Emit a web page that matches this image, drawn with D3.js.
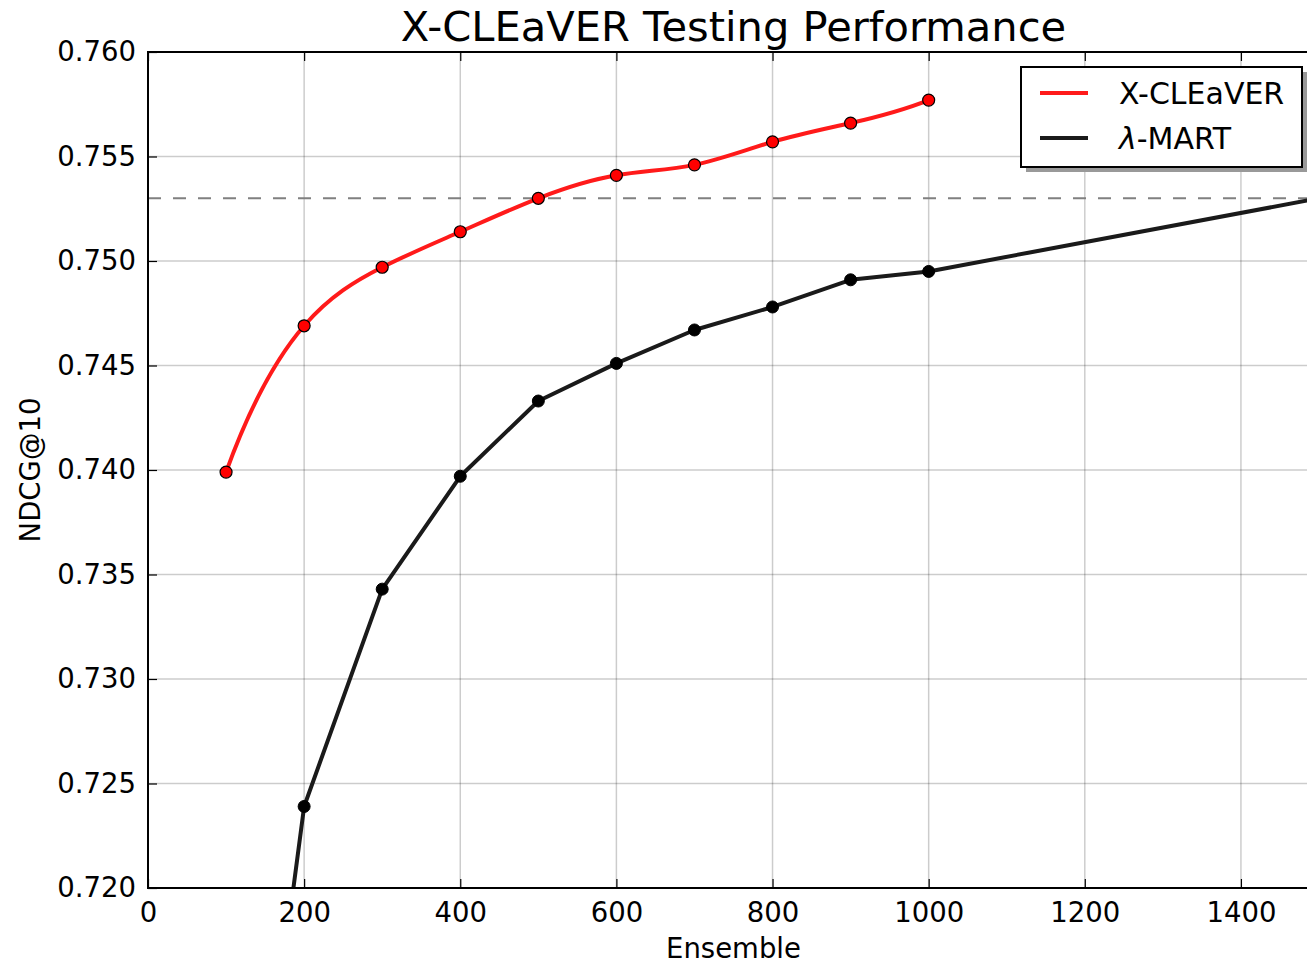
<!DOCTYPE html>
<html>
<head>
<meta charset="utf-8">
<script src="https://cdn.jsdelivr.net/npm/d3@7"></script>
<style>
  html, body { margin: 0; padding: 0; background: #fff; }
  svg { display: block; font-family: "DejaVu Sans", sans-serif; }
</style>
</head>
<body>
<svg id="chart" width="1307" height="966"></svg>
<script>
// Ensemble sizes and NDCG@10 for each model
const ensembleCleaver = [100, 200, 300, 400, 500, 600, 700, 800, 900, 1000];
const ndcgCleaver = [0.7399, 0.7469, 0.7497, 0.7514, 0.7530, 0.7541, 0.7546, 0.7557, 0.7566, 0.7577];
const ensembleMart = [100, 200, 300, 400, 500, 600, 700, 800, 900, 1000, 1500];
const ndcgMart = [0.6955, 0.7239, 0.7343, 0.7397, 0.7433, 0.7451, 0.7467, 0.7478, 0.7491, 0.7495, 0.7530];
const referenceLevel = 0.7530;
const xTicks = [0, 200, 400, 600, 800, 1000, 1200, 1400];
const yTicks = [0.720, 0.725, 0.730, 0.735, 0.740, 0.745, 0.750, 0.755, 0.760];
const seriesNames = ["X-CLEaVER", "λ-MART"];

// Cubic spline curve with "not-a-knot" end conditions, emitted as exact Bezier segments.
function curveNotAKnot(context) {
  let xs, ys;
  return {
    areaStart() {}, areaEnd() {},
    lineStart() { xs = []; ys = []; },
    point(px, py) { xs.push(+px); ys.push(+py); },
    lineEnd() {
      const n = xs.length;
      if (n === 0) return;
      context.moveTo(xs[0], ys[0]);
      if (n < 4) { for (let i = 1; i < n; i++) context.lineTo(xs[i], ys[i]); return; }
      const h = d3.range(n - 1).map(i => xs[i + 1] - xs[i]);
      const A = d3.range(n).map(() => new Array(n).fill(0));
      const b = new Array(n).fill(0);
      A[0][0] = -1 / h[0]; A[0][1] = 1 / h[0] + 1 / h[1]; A[0][2] = -1 / h[1];
      for (let i = 1; i < n - 1; i++) {
        A[i][i - 1] = h[i - 1]; A[i][i] = 2 * (h[i - 1] + h[i]); A[i][i + 1] = h[i];
        b[i] = 6 * ((ys[i + 1] - ys[i]) / h[i] - (ys[i] - ys[i - 1]) / h[i - 1]);
      }
      const k = n - 1;
      A[k][k - 2] = -1 / h[k - 2]; A[k][k - 1] = 1 / h[k - 2] + 1 / h[k - 1]; A[k][k] = -1 / h[k - 1];
      // Gaussian elimination with partial pivoting
      for (let c = 0; c < n; c++) {
        let p = c;
        for (let r = c + 1; r < n; r++) if (Math.abs(A[r][c]) > Math.abs(A[p][c])) p = r;
        [A[c], A[p]] = [A[p], A[c]]; [b[c], b[p]] = [b[p], b[c]];
        for (let r = c + 1; r < n; r++) {
          const f = A[r][c] / A[c][c];
          for (let j = c; j < n; j++) A[r][j] -= f * A[c][j];
          b[r] -= f * b[c];
        }
      }
      const M = new Array(n).fill(0);
      for (let r = n - 1; r >= 0; r--) {
        let s = b[r];
        for (let j = r + 1; j < n; j++) s -= A[r][j] * M[j];
        M[r] = s / A[r][r];
      }
      for (let i = 0; i < n - 1; i++) {
        const hi = h[i], sl = (ys[i + 1] - ys[i]) / hi;
        const d0 = sl - hi * (2 * M[i] + M[i + 1]) / 6;
        const d1 = sl + hi * (M[i] + 2 * M[i + 1]) / 6;
        context.bezierCurveTo(xs[i] + hi / 3, ys[i] + d0 * hi / 3,
                              xs[i + 1] - hi / 3, ys[i + 1] - d1 * hi / 3,
                              xs[i + 1], ys[i + 1]);
      }
    }
  };
}

(function draw() {
  const svg = d3.select("#chart");
  const pL = 148, pR = 1319, pT = 52, pB = 888;
  const fontSize = 27.5;

  const x = d3.scaleLinear().domain([0, 1500]).range([pL, pR]);
  const y = d3.scaleLinear().domain([0.720, 0.760]).range([pB, pT]);

  svg.append("defs").append("clipPath").attr("id", "plotClip")
    .append("rect").attr("x", pL).attr("y", pT).attr("width", pR - pL).attr("height", pB - pT);

  // grid
  const grid = svg.append("g");
  grid.selectAll(".gx").data(xTicks).join("line")
    .attr("x1", d => x(d)).attr("x2", d => x(d)).attr("y1", pT).attr("y2", pB)
    .attr("stroke", "#000").attr("stroke-opacity", 0.2).attr("stroke-width", 1.5);
  grid.selectAll(".gy").data(yTicks).join("line")
    .attr("x1", pL).attr("x2", pR).attr("y1", d => y(d)).attr("y2", d => y(d))
    .attr("stroke", "#000").attr("stroke-opacity", 0.2).attr("stroke-width", 1.5);

  const plot = svg.append("g").attr("clip-path", "url(#plotClip)");

  // reference level
  plot.append("line")
    .attr("x1", pL).attr("x2", pR).attr("y1", y(referenceLevel)).attr("y2", y(referenceLevel))
    .attr("stroke", "#808080").attr("stroke-width", 2).attr("stroke-dasharray", "13,12");

  const martPts = ensembleMart.map((e, i) => [e, ndcgMart[i]]);
  const cleaverPts = ensembleCleaver.map((e, i) => [e, ndcgCleaver[i]]);

  plot.append("path").datum(martPts)
    .attr("d", d3.line().x(d => x(d[0])).y(d => y(d[1])))
    .attr("fill", "none").attr("stroke", "#1a1a1a").attr("stroke-width", 4).attr("stroke-linejoin", "round");
  plot.selectAll(".mm").data(martPts).join("circle")
    .attr("cx", d => x(d[0])).attr("cy", d => y(d[1])).attr("r", 6)
    .attr("fill", "#000").attr("stroke", "#000").attr("stroke-width", 1);

  plot.append("path").datum(cleaverPts)
    .attr("d", d3.line().curve(curveNotAKnot).x(d => x(d[0])).y(d => y(d[1])))
    .attr("fill", "none").attr("stroke", "#ff1a1a").attr("stroke-width", 4);
  plot.selectAll(".cm").data(cleaverPts).join("circle")
    .attr("cx", d => x(d[0])).attr("cy", d => y(d[1])).attr("r", 6)
    .attr("fill", "#ff0000").attr("stroke", "#000").attr("stroke-width", 1.2);

  // frame
  svg.append("rect").attr("x", pL).attr("y", pT).attr("width", pR - pL).attr("height", pB - pT)
    .attr("fill", "none").attr("stroke", "#000").attr("stroke-width", 2);

  // axes with inward ticks
  const xAxis = svg.append("g").attr("transform", `translate(0,${pB})`)
    .call(d3.axisBottom(x).tickValues(xTicks).tickFormat(d3.format("d")).tickSizeInner(-9).tickSizeOuter(0).tickPadding(14));
  const yAxis = svg.append("g").attr("transform", `translate(${pL},0)`)
    .call(d3.axisLeft(y).tickValues(yTicks).tickFormat(d3.format(".3f")).tickSizeInner(-9).tickSizeOuter(0).tickPadding(12));
  svg.append("g").attr("transform", `translate(0,${pT})`)
    .call(d3.axisTop(x).tickValues(xTicks).tickFormat("").tickSizeInner(-9).tickSizeOuter(0));
  svg.selectAll(".domain").remove();
  svg.selectAll(".tick line").attr("stroke", "#000").attr("stroke-width", 1.2);
  [xAxis, yAxis].forEach(a => {
    a.selectAll(".tick text").attr("font-size", fontSize).attr("font-family", "DejaVu Sans").attr("fill", "#000");
  });

  // titles
  svg.append("text").attr("x", (pL + pR) / 2).attr("y", 41)
    .attr("text-anchor", "middle").attr("font-size", 41.6).text("X-CLEaVER Testing Performance");
  svg.append("text").attr("x", (pL + pR) / 2).attr("y", 958)
    .attr("text-anchor", "middle").attr("font-size", fontSize).text("Ensemble");
  svg.append("text").attr("transform", `translate(40,${(pT + pB) / 2}) rotate(-90)`)
    .attr("text-anchor", "middle").attr("font-size", fontSize).text("NDCG@10");

  // legend
  const lg = svg.append("g");
  lg.append("rect").attr("x", 1026).attr("y", 72).attr("width", 281).attr("height", 100).attr("fill", "#999");
  lg.append("rect").attr("x", 1021).attr("y", 67).attr("width", 281).attr("height", 100)
    .attr("fill", "#fff").attr("stroke", "#000").attr("stroke-width", 2);
  const legendColors = ["#ff1a1a", "#1a1a1a"];
  seriesNames.forEach((name, i) => {
    const yy = 93 + i * 45;
    lg.append("line").attr("x1", 1040).attr("x2", 1088).attr("y1", yy).attr("y2", yy)
      .attr("stroke", legendColors[i]).attr("stroke-width", 4);
    const t = lg.append("text").attr("x", 1119).attr("y", yy + 11).attr("font-size", 30);
    if (name.startsWith("λ")) {
      t.append("tspan").attr("font-style", "italic").text("λ");
      t.append("tspan").text(name.slice(1));
    } else {
      t.text(name);
    }
  });
})();
</script>
</body>
</html>
